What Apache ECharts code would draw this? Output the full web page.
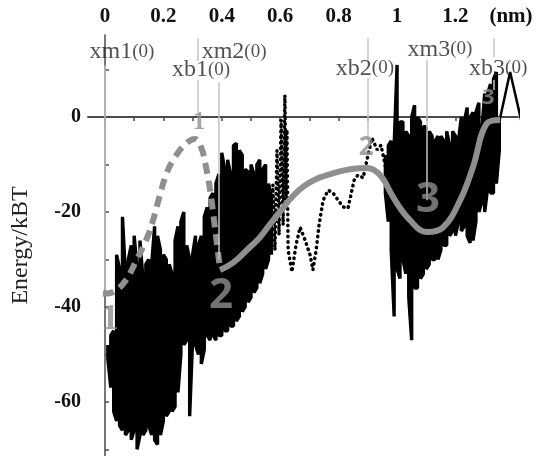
<!DOCTYPE html>
<html>
<head>
<meta charset="utf-8">
<script src="https://cdn.jsdelivr.net/npm/echarts@6/dist/echarts.min.js"></script>
<style>
html, body { margin: 0; background: #fff; }
#main { width: 539px; height: 456px; }
</style>
</head>
<body>
<div id="main"></div>
<script>
// top axis (nm)
var xLabelVals = [0, 0.2, 0.4, 0.6, 0.8, 1, 1.2, 1.39];
var xTickVals = [0, 0.1, 0.2, 0.3, 0.4, 0.5, 0.6, 0.7, 0.8, 0.9, 1, 1.1, 1.2, 1.3];
var yLabelVals = [0, -20, -40, -60];
var yTickVals = [10, 0, -10, -20, -30, -40, -50, -60, -70];

// noisy trace, first well (x, upper and lower excursions)
var noiseAX = [0.01, 0.02, 0.03, 0.04, 0.05, 0.06, 0.07, 0.08, 0.09, 0.10,
  0.11, 0.12, 0.13, 0.14, 0.15, 0.16, 0.17, 0.18, 0.19, 0.20,
  0.21, 0.22, 0.23, 0.24, 0.25, 0.26, 0.27, 0.28, 0.29, 0.30,
  0.31, 0.32, 0.33, 0.34, 0.35, 0.36, 0.37, 0.38, 0.39, 0.40,
  0.41, 0.42, 0.43, 0.44, 0.45, 0.46, 0.47, 0.48, 0.49, 0.50,
  0.51, 0.52, 0.53, 0.54, 0.55, 0.56, 0.57];
var noiseAHi = [-48, -46, -45, -29, -32, -21, -33, -30, -27, -25,
  -32, -26, -34, -31, -30, -31, -23, -25, -28, -29,
  -30, -31, -33, -26, -23, -22, -20, -27, -30, -29,
  -25, -27, -25, -21, -19, -17, -16, -14, -12, -7.5,
  -11, -9, -12, -6, -5.5, -7, -8, -11, -11.5, -10,
  -12, -10, -9, -11, -10, -14, -17];
var noiseALo = [-51, -57, -62, -64, -65, -66, -67, -66, -68, -66,
  -70, -67, -67, -66, -65, -67, -68, -69, -67, -64,
  -63, -62, -62, -61, -58, -50, -48, -47, -63, -47,
  -48, -50, -52, -49, -46, -47, -46, -47, -46, -46,
  -45, -45, -44, -44, -43, -42, -41, -40, -39, -38,
  -37, -36, -35, -33, -32, -30, -29];

// noisy trace, second and third wells
var noiseBX = [0.96, 0.97, 0.98, 0.99, 1.00, 1.01, 1.02, 1.03, 1.04, 1.05,
  1.06, 1.07, 1.08, 1.09, 1.10, 1.11, 1.12, 1.13, 1.14, 1.15,
  1.16, 1.17, 1.18, 1.19, 1.20, 1.21, 1.22, 1.23, 1.24, 1.25,
  1.26, 1.27, 1.28, 1.29, 1.30, 1.31, 1.32, 1.33, 1.34, 1.35];
var noiseBHi = [-8, -6, -5, -6, 11, -1, -1, -3, -4, 0,
  2.5, 0, -1, -2, -2, -3, -4, -5, -4, -4,
  -5, -3, -6, -3, -4, -5, 0, -1, 2, 0,
  1, 1, 3, -3, 5, 5, 7, 8, 9.5, 0];
var noiseBLo = [-16, -22, -28, -42, -32, -34, -30, -33, -38, -47,
  -36, -36, -34, -33, -32, -31, -30, -30, -30, -28,
  -27, -27, -25, -24, -25, -22, -24, -23, -25, -26.5,
  -26, -22, -20, -18, -20, -15, -16, -16, -14, -7];
var tailX = [1.35, 1.387, 1.428];
var tailY = [-1, 9.5, -1.5];

// dotted trace in between
var dotX = [0.565, 0.575, 0.582, 0.589, 0.596, 0.603, 0.61, 0.616, 0.62, 0.623,
  0.627, 0.64, 0.654, 0.668, 0.685, 0.702, 0.712, 0.723, 0.733, 0.747,
  0.764, 0.781, 0.798, 0.815, 0.832, 0.842, 0.853, 0.866, 0.884, 0.897,
  0.914, 0.932, 0.945, 0.959, 0.973];
var dotY = [-27, -14.3, -28, -7, -24.8, -0.6, -22.7, 4.6, -17.5, -2.7,
  -28, -32.6, -27, -23.2, -25.9, -29, -32.2, -28, -22.7, -17.5,
  -15.4, -16, -17.5, -18.9, -19.2, -16.4, -13.3, -12.2, -12.8, -9,
  -4.4, -6.9, -5.9, -10.1, -12.8];

// grey model profiles
var dashX = [-0.007, 0.03, 0.07, 0.105, 0.15, 0.188, 0.21, 0.24, 0.277, 0.308,
  0.33, 0.346, 0.36, 0.372, 0.383, 0.394];
var dashY = [-37.2, -36.8, -34.5, -30.5, -24.5, -16.5, -12, -8.4, -5.6, -4.6,
  -6.5, -10.5, -15.4, -21, -26.5, -32];
var solidX = [0.394, 0.438, 0.486, 0.531, 0.575, 0.678, 0.794, 0.897, 0.942, 0.986,
  1.034, 1.103, 1.158, 1.216, 1.26, 1.308, 1.353];
var solidY = [-32.2, -30.7, -28, -25.3, -21.8, -14.7, -11.6, -10.7, -12.2, -16.8,
  -21, -24.2, -23.2, -17.5, -10.5, -1.3, -0.6];

// reference positions and their labels
var markNames = ['xm1', 'xb1', 'xm2', 'xb2', 'xm3', 'xb3'];
var markLabelX = [0.058, 0.329, 0.442, 0.89, 1.147, 1.346];
var markLabelY = [13.7, 9.9, 13.7, 10.3, 14.3, 10.3];
// guide segments: [x, from, to]
var guideSegs = [[0, 10.9, -36.4], [0.318, 16.6, 11.8], [0.318, 7.8, 1],
  [0.39, 7.4, -30], [0.9, 16.6, 12], [0.9, 8.2, -4.8],
  [1.1, 12, -17.5], [1.33, 16.6, 12.6], [1.33, 7.8, 5.7]];

// state numbers
var numText = ['1', '1', '2', '2', '3', '3'];
var numX = [0.017, 0.322, 0.397, 0.894, 1.106, 1.312];
var numY = [-42.7, -1, -37.7, -6.5, -17.5, 4];
var numSize = [36, 26, 42, 26, 42, 22];

function zig(xs, hi, lo) {
  var out = [];
  for (var i = 0; i < xs.length; i++) {
    if (i % 2 === 0) { out.push([xs[i], hi[i]], [xs[i], lo[i]]); }
    else { out.push([xs[i], lo[i]], [xs[i], hi[i]]); }
  }
  return out;
}
function pairs(xs, ys) {
  return xs.map(function (x, i) { return [x, ys[i]]; });
}

var serif = 'Liberation Serif';
var grey = '#8f8f8f';

var chart = echarts.init(document.getElementById('main'));
chart.setOption({
  animation: false,
  grid: { left: 88, top: 35, right: 21, bottom: 0, containLabel: false, outerBoundsMode: 'none' },
  xAxis: {
    type: 'value',
    position: 'top',
    min: -0.058,
    max: 1.414,
    splitLine: { show: false },
    axisLine: { lineStyle: { color: '#4a4a4a', width: 2 } },
    axisTick: { inside: true, length: 4, customValues: xTickVals, lineStyle: { color: '#4a4a4a', width: 1.5 } },
    axisLabel: {
      customValues: xLabelVals,
      margin: 8,
      fontFamily: serif,
      fontWeight: 'bold',
      fontSize: 21,
      color: '#111',
      formatter: function (v) { return v > 1.3 ? '(nm)' : String(+v.toFixed(1)); }
    }
  },
  yAxis: {
    type: 'value',
    min: -71.4,
    max: 17.3,
    name: 'Energy/kBT',
    nameLocation: 'middle',
    nameGap: 55,
    nameTextStyle: { fontFamily: serif, fontSize: 24, color: '#222' },
    splitLine: { show: false },
    axisLine: { lineStyle: { color: '#4a4a4a', width: 1.5 } },
    axisTick: { inside: true, length: 4, customValues: yTickVals, lineStyle: { color: '#4a4a4a', width: 1.5 } },
    axisLabel: {
      customValues: yLabelVals,
      margin: 7,
      fontFamily: serif,
      fontWeight: 'bold',
      fontSize: 20,
      color: '#111'
    }
  },
  series: [
    {
      name: 'guides',
      type: 'line',
      data: [],
      z: 1,
      markLine: {
        silent: true,
        symbol: ['none', 'none'],
        label: { show: false },
        lineStyle: { color: '#c4c4c4', width: 1.5, type: 'solid' },
        data: guideSegs.map(function (g) {
          return [{ coord: [g[0], g[1]] }, { coord: [g[0], g[2]] }];
        })
      }
    },
    {
      name: 'trace1',
      type: 'line',
      data: zig(noiseAX, noiseAHi, noiseALo),
      showSymbol: false,
      z: 2,
      lineStyle: { color: '#000', width: 3.4 }
    },
    {
      name: 'trace2',
      type: 'line',
      data: zig(noiseBX, noiseBHi, noiseBLo),
      showSymbol: false,
      z: 2,
      lineStyle: { color: '#000', width: 3.4 }
    },
    {
      name: 'tail',
      type: 'line',
      data: pairs(tailX, tailY),
      showSymbol: false,
      clip: false,
      z: 2,
      lineStyle: { color: '#000', width: 2.5 }
    },
    {
      name: 'dotted',
      type: 'line',
      data: pairs(dotX, dotY),
      showSymbol: false,
      z: 2,
      lineStyle: { color: '#000', width: 3.5, type: [0.5, 5], cap: 'round' }
    },
    {
      name: 'barrier1',
      type: 'line',
      data: pairs(dashX, dashY),
      smooth: 0.4,
      showSymbol: false,
      z: 3,
      lineStyle: { color: grey, width: 6, type: [11, 7] }
    },
    {
      name: 'profile',
      type: 'line',
      data: pairs(solidX, solidY),
      smooth: 0.4,
      showSymbol: false,
      z: 3,
      lineStyle: { color: grey, width: 6 }
    },
    {
      name: 'marks',
      type: 'scatter',
      symbolSize: 0,
      z: 5,
      data: markNames.map(function (n, i) { return [markLabelX[i], markLabelY[i], n]; }),
      label: {
        show: true,
        position: 'inside',
        formatter: function (p) { return '{a|' + p.value[2] + '}{b|(0)}'; },
        rich: {
          a: { fontFamily: serif, fontSize: 24, color: '#262626' },
          b: { fontFamily: serif, fontSize: 19, color: '#262626' }
        }
      }
    },
    {
      name: 'states',
      type: 'scatter',
      symbolSize: 0,
      z: 6,
      data: numText.map(function (t, i) {
        return {
          value: [numX[i], numY[i], t],
          label: { fontSize: numSize[i], fontFamily: t === '1' ? serif : 'Open Sans' }
        };
      }),
      label: {
        show: true,
        position: 'inside',
        color: grey,
        fontWeight: 'bold',
        formatter: function (p) { return p.value[2]; }
      }
    }
  ]
});
</script>
</body>
</html>
